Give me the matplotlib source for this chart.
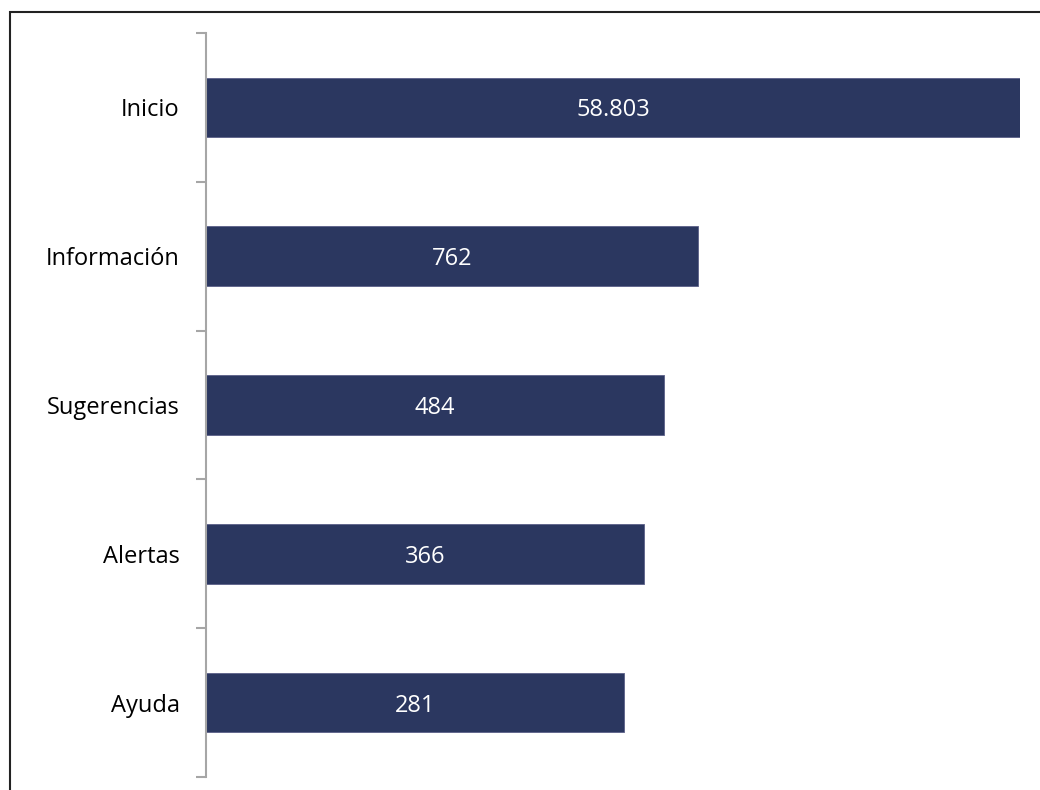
import matplotlib.pyplot as plt
import matplotlib.patches as mpatches
import numpy as np

# Data
categories = ['Inicio', 'Información', 'Sugerencias', 'Alertas', 'Ayuda']
values = [58803, 762, 484, 366, 281]

bar_color = '#2B3760'
axis_gray = '#A6A6A6'

plt.rcParams['font.family'] = ['Open Sans', 'DejaVu Sans']

fig = plt.figure(figsize=(10.4, 7.9), dpi=100)
ax = fig.add_axes([206 / 1040, 13 / 790, 814 / 1040, 744 / 790])

y = np.arange(len(categories))
ax.barh(y, values, height=0.4, left=1, color=bar_color,
        edgecolor='#5B6088', linewidth=0.6)

ax.set_xscale('log')
ax.set_xlim(1, max(values))
ax.set_ylim(len(categories) - 0.5, -0.5)

# value labels, centred in the bar (geometric mean on log scale)
for yi, v in zip(y, values):
    ax.text(np.sqrt(v), yi, f"{v:,}".replace(',', '.'), color='white',
            ha='center', va='center_baseline', fontsize=17)

# category labels at centres, tick marks at boundaries
ax.set_yticks(y)
ax.set_yticklabels(categories, fontsize=17)
ax.tick_params(axis='y', which='major', length=0, pad=19)
ax.set_yticks(np.arange(len(categories) + 1) - 0.5, minor=True)
ax.tick_params(axis='y', which='minor', length=7, width=1.5,
               color=axis_gray, direction='out')

ax.set_xticks([])
ax.xaxis.set_minor_locator(plt.NullLocator())
for s in ['top', 'right', 'bottom']:
    ax.spines[s].set_visible(False)
ax.spines['left'].set_color(axis_gray)
ax.spines['left'].set_linewidth(1.5)

# outer border of the chart area
fig.patches.append(mpatches.Rectangle((10 / 1040, -0.1), 1.2, (778 / 790) + 0.1,
                                      transform=fig.transFigure, fill=False,
                                      edgecolor='#222222', linewidth=1.5))

plt.savefig('out.png', dpi=100)
